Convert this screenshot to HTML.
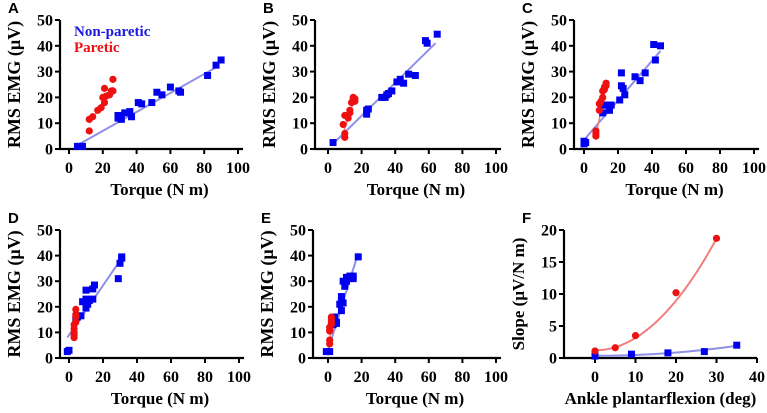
<!DOCTYPE html>
<html><head><meta charset="utf-8"><style>
body{margin:0;background:#fff;width:767px;height:408px;overflow:hidden}
</style></head><body>
<svg id="fig" width="767" height="408" viewBox="0 0 767 408" xmlns="http://www.w3.org/2000/svg"></svg>
<script>
// ---- data (torque N m, RMS EMG µV) ----
const aBlueX=[5,6,7,8,29,29,31,33,36,37,41,43,49,52,55,60,65,66,82,87,90];
const aBlueY=[1,1,1,1,12,13,11.5,14,14.5,12.5,18,17.5,18,22,21,24,22.5,22,28.5,32.5,34.5];
const aRedX=[12,12,14,17,19,20,21,21,22,24,25,26,26];
const aRedY=[7,11.5,12.5,15,16,20,23.5,18,20.5,21,22.5,27,22.5];
const aFitBlue=[5,1.5,88,32]; const aFitRed=[12,10,26,24];

const bBlueX=[3,23,23,24,32,34,35,36,38,41,43,45,48,52,58,59,65];
const bBlueY=[2.5,13.5,15,15.5,20,20,21,21.5,22.5,26,27,25.5,29,28.5,42,41,44.5];
const bRedX=[9,10,10,10,12,13,13,14,15,15,16,16];
const bRedY=[9.5,4.5,6,13,12,15,14,18,19,20,18.5,19.5];
const bFitBlue=[3,2,64,41]; const bFitRed=[9,6,16,20];

const cBlueX=[0,1,0,11,11,13,15,15,16,21,22,22,23,24,30,33,36,41,42,45];
const cBlueY=[2,2.5,3,14,17,17,15,17,17,19,29.5,24.5,23.5,21,28,26.5,29.5,40.5,34.5,40];
const cRedX=[7,7,7,9,9,10,11,11,12,12,13,13];
const cRedY=[5,6,7,15,17.5,18.5,20,22.5,23,24,25.5,24.5];
const cFitBlue=[0,3.5,45,38]; const cFitRed=[7,5,13,25];

const dBlueX=[-1,0,4,5,7,8,10,10,10,11,12,14,14,15,29,30,31,31];
const dBlueY=[2.5,3,15,16,16.5,22,26.5,23,19.5,21,22.5,23,27,28.5,31,37,39.5,39];
const dRedX=[3,3,3,3,3,4,4,4,4];
const dRedY=[8,9,10,11.5,13,14,16,17,19];
const dFitBlue=[-1,8,31,39]; const dFitRed=[3,8,4,19];

const eBlueX=[-1,1,3,4,5,5,7,8,8,8,9,9,10,11,11,13,15,15,18];
const eBlueY=[2.5,2.5,13,16,14,13.5,21,18.5,22.5,24,21.5,30,28,31.5,30,32,32,31,39.5];
const eRedX=[1,1,1,1,2,2,2,2,1];
const eRedY=[5.5,7,10.5,12,13,14,15,16,11];
const eFitBlue=[0,3,18,41]; const eFitRed=[1,5,2,16];

// F: ankle plantarflexion (deg) vs slope
const fRedX=[0,5,10,20,30]; const fRedY=[1.1,1.6,3.5,10.2,18.7];
const fBlueX=[0,9,18,27,35]; const fBlueY=[0.3,0.6,0.8,1.0,2.0];
const fRedCoef=[1.2,0.0194,2]; const fBlueCoef=[0.35,0.00127,2];

const xTicks=[0,20,40,60,80,100]; const yTicks=[0,10,20,30,40,50];
const fxTicks=[0,10,20,30,40]; const fyTicks=[0,5,10,15,20];

const NS="http://www.w3.org/2000/svg";const svg=document.getElementById('fig');
const SERIF="'Liberation Serif', 'DejaVu Serif', serif";
function el(t,a,p){const e=document.createElementNS(NS,t);for(const k in a)e.setAttribute(k,a[k]);(p||svg).appendChild(e);return e;}
function txt(a,p){a['font-family']=a['font-family']||SERIF;a['font-weight']='bold';return el('text',a,p);}

function panel(o){
  const g=el('g',{});
  
  
  const sx=v=>o.x0+(v-o.xmin)*(o.x1-o.x0)/(o.xmax-o.xmin);
  const sy=v=>o.yb-(v-o.ymin)*(o.yb-o.yt)/(o.ymax-o.ymin);
  const axL=o.axL, axR=o.axR;
  const ax=el('path',{d:`M${axL},${o.yt}V${o.yb}H${axR}`,stroke:'#000','stroke-width':2.2,fill:'none'},g);
  
  
  o.yt_.forEach(v=>{const y=sy(v);el('line',{x1:axL-5,x2:axL,y1:y,y2:y,stroke:'#000','stroke-width':2},g);
    const t=txt({x:axL-7,y:y+5.5,'text-anchor':'end','font-size':16},g);t.textContent=v;
    
    });
  o.xt_.forEach(v=>{const x=sx(v);el('line',{x1:x,x2:x,y1:o.yb,y2:o.yb+5,stroke:'#000','stroke-width':2},g);
    const t=txt({x:x,y:o.yb+24,'text-anchor':'middle','font-size':16},g);t.textContent=v;
    
    });
  const xt=txt({x:(axL+axR)/2+o.xtOff,y:o.yb+46,'text-anchor':'middle','font-size':17},g);xt.textContent=o.xlabel;
  
  
  const ym=(o.yt+o.yb)/2;
  const yl=txt({x:0,y:0,'text-anchor':'middle','font-size':o.ylfs,transform:`translate(${axL-40},${ym}) rotate(-90)`},g);yl.textContent=o.ylabel;
  
  
  const L=txt({x:o.lx,y:o.ly,'font-size':15,'font-family':"'Liberation Sans', sans-serif"},g);L.textContent=o.letter;
  
  
  if(o.fitB){const f=el('line',{x1:sx(o.fitB[0]),y1:sy(o.fitB[1]),x2:sx(o.fitB[2]),y2:sy(o.fitB[3]),stroke:'#8f8fe8','stroke-width':2},g);
    }
  if(o.fitR){const f=el('line',{x1:sx(o.fitR[0]),y1:sy(o.fitR[1]),x2:sx(o.fitR[2]),y2:sy(o.fitR[3]),stroke:'#f08080','stroke-width':1.5},g);
    }
  if(o.curves){o.curves.forEach(c=>{let d='';for(let i=0;i<=40;i++){const x=c.a+(c.b-c.a)*i/40;const y=c.k[0]+c.k[1]*Math.pow(x,c.k[2]);d+=(i?'L':'M')+sx(x).toFixed(1)+','+sy(y).toFixed(1);}
    const p=el('path',{d:d,stroke:c.col,'stroke-width':2,fill:'none'},g);
    });}
  o.bx.forEach((v,i)=>{const r=el('rect',{x:sx(v)-3.5,y:sy(o.by[i])-3.5,width:7,height:7,fill:'#0000ee'},g);
    });
  o.rx.forEach((v,i)=>{const c=el('circle',{cx:sx(v),cy:sy(o.ry[i]),r:3.6,fill:'#ee1111'},g);
    });
}
const ylab='RMS EMG (\u00b5V)', xlab='Torque (N m)';
const rowTop={yt:20,yb:149,ly:13}, rowBot={yt:230,yb:358,ly:223};
function torquePanel(letter,row,axL,x0,x1,bx,by,rx,ry,fb,fr){
  panel({letter,lx:axL-52,ly:row.ly,axL,axR:x0+(x1-x0)*1.03,x0,x1,xmin:0,xmax:100,ymin:0,ymax:50,yt:row.yt,yb:row.yb,
    yt_:yTicks,xt_:xTicks,xlabel:xlab,ylabel:ylab,ylfs:18,xtOff:8,bx,by,rx,ry,fitB:fb,fitR:fr});
}
torquePanel('A',rowTop,60,69,238,aBlueX,aBlueY,aRedX,aRedY,aFitBlue,aFitRed);
torquePanel('B',rowTop,315,328,496,bBlueX,bBlueY,bRedX,bRedY,bFitBlue,bFitRed);
torquePanel('C',rowTop,574,584,754,cBlueX,cBlueY,cRedX,cRedY,cFitBlue,cFitRed);
torquePanel('D',rowBot,60,69,239,dBlueX,dBlueY,dRedX,dRedY,dFitBlue,dFitRed);
torquePanel('E',rowBot,313,328,496,eBlueX,eBlueY,eRedX,eRedY,eFitBlue,eFitRed);
panel({letter:'F',lx:522,ly:rowBot.ly,axL:564,axR:757,x0:595,x1:757,xmin:0,xmax:40,ymin:0,ymax:20,yt:rowBot.yt,yb:rowBot.yb,
  yt_:fyTicks,xt_:fxTicks,xlabel:'Ankle plantarflexion (deg)',ylabel:'Slope (\u00b5V/N m)',ylfs:17,xtOff:0,
  bx:fBlueX,by:fBlueY,rx:fRedX,ry:fRedY,
  curves:[{a:0,b:30,k:fRedCoef,col:'#f08080'},{a:0,b:35,k:fBlueCoef,col:'#8f8fe8'}]});
const l1=txt({x:74,y:36,'font-size':15,fill:'#1a1ae0'});l1.textContent='Non-paretic';


const l2=txt({x:74,y:52,'font-size':15,fill:'#ee1111'});l2.textContent='Paretic';


</script>
</body></html>
